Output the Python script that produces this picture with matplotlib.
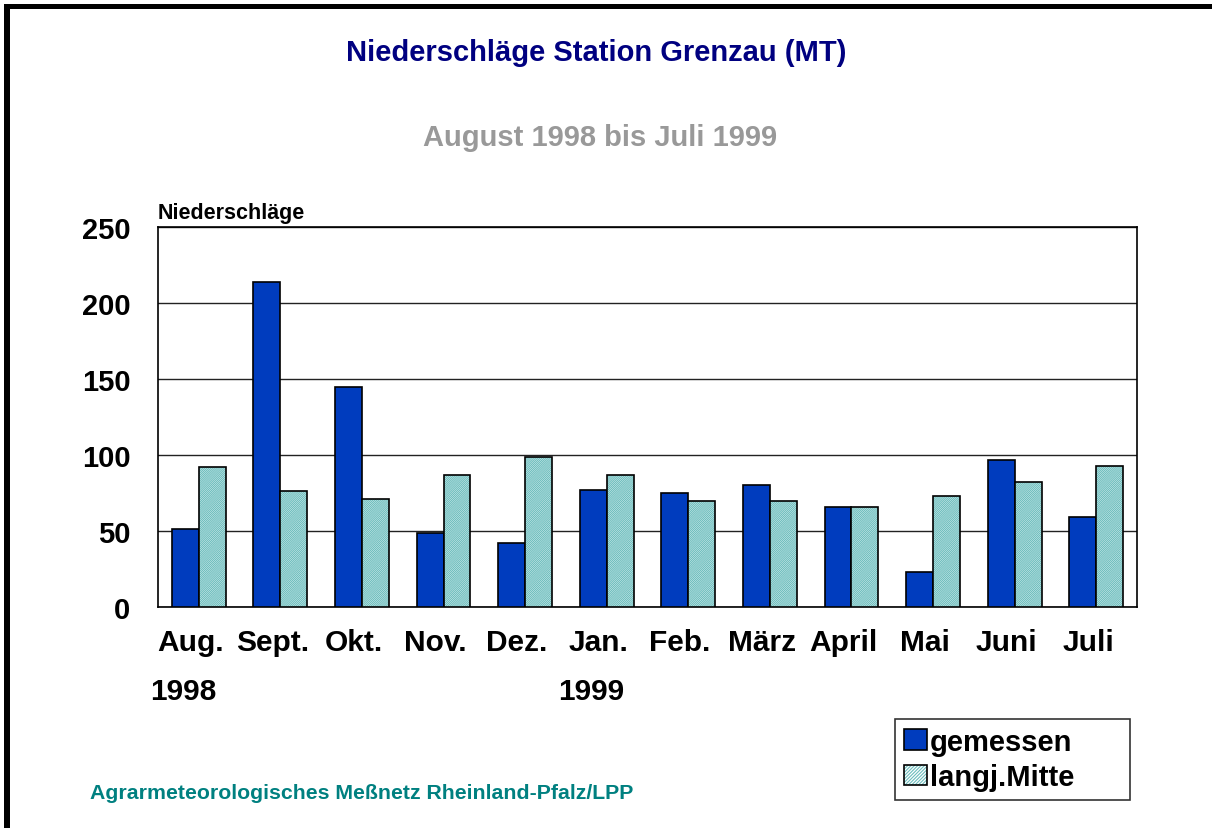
import matplotlib.pyplot as plt
import numpy as np
from matplotlib.patches import Patch, Rectangle

# data (mm precipitation)
months = ["Aug.", "Sept.", "Okt.", "Nov.", "Dez.", "Jan.", "Feb.", "März", "April", "Mai", "Juni", "Juli"]
gemessen = [51, 214, 145, 49, 42, 77, 75, 80, 66, 23, 97, 59]
langj_mitte = [92, 76, 71, 87, 99, 87, 70, 70, 66, 73, 82, 93]
year_labels = [("1998", 0), ("1999", 5)]

blue = "#003CBE"
teal = "#6BBDBD"
hatch = "/" * 16

plt.rcParams['font.family'] = ['Liberation Sans', 'DejaVu Sans']
plt.rcParams['font.weight'] = 'bold'
plt.rcParams['hatch.linewidth'] = 0.8

fig = plt.figure(figsize=(12.12, 8.29), dpi=100)
ax = fig.add_axes([0.1304, 0.2666, 0.8077, 0.4584])

x = np.arange(len(months))
w = 0.33
ax.bar(x - w / 2, gemessen, w, color=blue, edgecolor="black", linewidth=1.2, zorder=3)
# hatched bars: hatch layer in teal, then black outline on top
ax.bar(x + w / 2, langj_mitte, w, color="white", edgecolor=teal, hatch=hatch, linewidth=0, zorder=3)
ax.bar(x + w / 2, langj_mitte, w, color="none", edgecolor="black", linewidth=1.2, zorder=4)

ax.set_xlim(-0.5, len(months) - 0.5)
ax.set_ylim(0, 250)
ax.set_yticks([0, 50, 100, 150, 200, 250])
ax.set_xticks(x - 0.1)
ax.set_xticklabels(months)
ax.tick_params(axis='both', length=0, labelsize=21)
ax.tick_params(axis='y', pad=20)
ax.tick_params(axis='x', labelsize=21.5, pad=15)
ax.yaxis.grid(True, color="#222222", linewidth=1.0, zorder=0)
ax.set_axisbelow(True)
for s in ax.spines.values():
    s.set_linewidth(1.2)
    s.set_color("black")

for txt, i in year_labels:
    ax.text(i - 0.19, -0.22, txt, transform=ax.get_xaxis_transform(),
            ha="center", va="center", fontsize=21.5, fontweight="bold")

ax.text(0, 1.01, "Niederschläge", transform=ax.transAxes, ha="left", va="bottom",
        fontsize=15.5, fontweight="bold")

fig.text(0.492, 0.936, "Niederschläge Station Grenzau (MT)", ha="center", va="center",
         fontsize=21, fontweight="bold", color="#000080")
fig.text(0.495, 0.833, "August 1998 bis Juli 1999", ha="center", va="center",
         fontsize=21, fontweight="bold", color="#999999")
fig.text(0.074, 0.043, "Agrarmeteorologisches Meßnetz Rheinland-Pfalz/LPP", ha="left", va="center",
         fontsize=15.3, fontweight="bold", color="#008080")

# legend
h1 = Patch(facecolor=blue, edgecolor="black", linewidth=1.2)
h2a = Patch(facecolor="white", edgecolor=teal, hatch="/" * 10, linewidth=0)
h2b = Patch(facecolor="none", edgecolor="black", linewidth=1.2)
leg = fig.legend([h1, (h2a, h2b)], ["gemessen", "langj.Mitte"],
                 loc="upper left", bbox_to_anchor=(895 / 1212, 1 - 720 / 829, 235 / 1212, 0.0),
                 bbox_transform=fig.transFigure, mode="expand",
                 fontsize=21, frameon=True, fancybox=False, borderpad=0.3, handlelength=0.8,
                 handleheight=0.7, handletextpad=0.1, labelspacing=0.25, borderaxespad=0)
leg.get_frame().set_edgecolor("black")
leg.get_frame().set_linewidth(1.2)

# page border (top and left)
fig.add_artist(Rectangle((4 / 1212, 1 - 10 / 829), 1.0, 5 / 829, transform=fig.transFigure,
                         facecolor="black", edgecolor="none"))
fig.add_artist(Rectangle((4 / 1212, 0), 6 / 1212, 1 - 5 / 829, transform=fig.transFigure,
                         facecolor="black", edgecolor="none"))

fig.savefig("out.png", dpi=100)
